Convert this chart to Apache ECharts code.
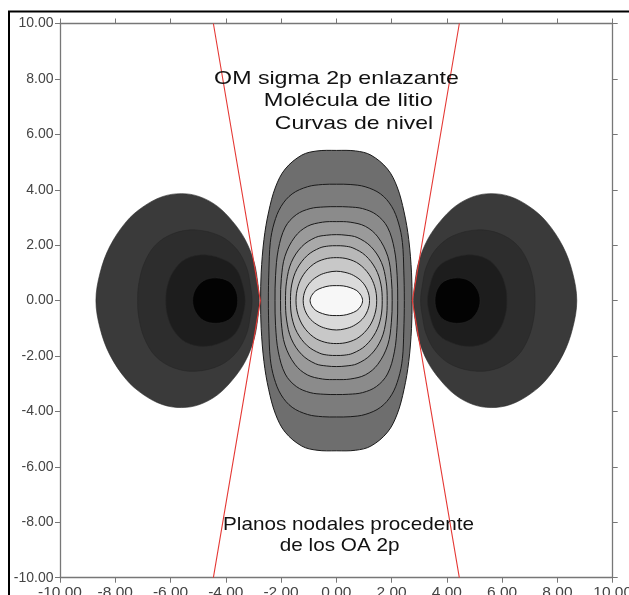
<!DOCTYPE html>
<html><head><meta charset="utf-8">
<script src="https://cdn.jsdelivr.net/npm/echarts@6/dist/echarts.min.js"></script>
<style>html,body{margin:0;padding:0;background:#fff}#c{width:629px;height:595px}</style>
</head><body><div id="c"></div>
<script>
// ---- axis range ----
const axisMin = -10, axisMax = 10, axisStep = 2;

// ---- central (bonding) lobe: contour curves, first-quadrant points (x>=0,y>=0), outer -> inner ----
const mid1 = [[2.74,0],[2.72,1.0],[2.62,2.2],[2.45,3.2],[2.2,4.1],[1.85,4.75],[1.25,5.25],[0.7,5.4],[0,5.42]];
const mid2 = [[2.46,0],[2.44,1.1],[2.39,2.1],[2.25,2.8],[2.0,3.4],[1.6,3.85],[1.04,4.11],[0.5,4.19],[0,4.2]];
const mid3 = [[2.22,0],[2.2,0.9],[2.1,1.85],[1.85,2.65],[1.45,3.1],[0.95,3.32],[0.45,3.38],[0,3.39]];
const mid4 = [[2.02,0],[1.99,0.8],[1.86,1.6],[1.5,2.3],[1.05,2.68],[0.5,2.83],[0,2.85]];
const mid5 = [[1.84,0],[1.8,0.7],[1.63,1.38],[1.25,1.95],[0.75,2.28],[0.35,2.36],[0,2.38]];
const mid6 = [[1.66,0],[1.61,0.6],[1.42,1.15],[1.05,1.63],[0.6,1.9],[0.28,1.97],[0,1.98]];
const mid7 = [[1.46,0],[1.39,0.5],[1.18,0.95],[0.82,1.32],[0.42,1.5],[0,1.55]];
const mid8 = [[1.2,0],[1.13,0.36],[0.93,0.68],[0.62,0.91],[0.31,1.02],[0,1.06]];
const mid9 = [[0.95,0],[0.89,0.19],[0.74,0.36],[0.5,0.47],[0.25,0.53],[0,0.54]];
const midShades = ['#6e6e6e','#7c7c7c','#8b8b8b','#9a9a9a','#a9a9a9','#b8b8b8','#c8c8c8','#dadada','#f7f7f7'];

// ---- outer lobes (right lobe given, upper half from inner y=0 point over the top to outer y=0 point) ----
const side1 = [[2.79,0],[2.85,0.7],[2.98,1.4],[3.3,2.2],[3.75,2.85],[4.3,3.4],[4.95,3.75],[5.6,3.86],[6.3,3.75],[7.0,3.38],[7.6,2.85],[8.2,1.95],[8.55,1.0],[8.7,0]];
const side2 = [[3.05,0],[3.12,0.6],[3.25,1.2],[3.6,1.85],[4.2,2.33],[5.1,2.55],[5.9,2.42],[6.55,2.0],[6.95,1.35],[7.15,0.6],[7.19,0]];
const side3 = [[3.3,0],[3.4,0.6],[3.6,1.1],[3.95,1.42],[4.72,1.65],[5.45,1.5],[5.9,1.05],[6.12,0.5],[6.17,0]];
const side4 = [[3.57,0],[3.65,0.4],[3.9,0.7],[4.35,0.82],[4.8,0.72],[5.1,0.4],[5.2,0]];
const sideShades = ['#3a3a3a','#2d2d2d','#1d1d1d','#030303'];

// ---- nodal planes ----
const nodalLeft  = [[-4.45,10],[-2.75,0],[-4.45,-10]];
const nodalRight = [[4.45,10],[2.75,0],[4.45,-10]];

// ---- texts ----
const titleLines = ['OM sigma 2p enlazante','Molécula de litio','Curvas de nivel'];
const noteLines  = ['Planos nodales procedente','de los OA 2p'];

// build closed rings by mirroring
function quadRing(Q){
  return [
    ...Q,
    ...Q.slice(0,-1).reverse().map(([x,y])=>[-x,y]),
    ...Q.slice(1).map(([x,y])=>[-x,-y]),
    ...Q.slice(1,-1).reverse().map(([x,y])=>[x,-y])
  ];
}
function halfRing(U, sx){
  const r = [...U, ...U.slice(1,-1).reverse().map(([x,y])=>[x,-y])];
  return r.map(([x,y])=>[sx*x,y]);
}
const midRings = [mid1,mid2,mid3,mid4,mid5,mid6,mid7,mid8,mid9].map(quadRing);
const sides = [side1,side2,side3,side4];
const rightRings = sides.map(u=>halfRing(u,1));
const leftRings = sides.map(u=>halfRing(u,-1));

function polySeries(name, rings, shades, stroke, lw){
  return {
    type:'custom', name, coordinateSystem:'cartesian2d', silent:true, z:2,
    data: rings.map((r,i)=>[r[0][0], r[0][1], i]),
    encode:{x:0,y:1},
    renderItem:(params, api)=>{
      const i = api.value(2);
      const pts = rings[i].map(p=>api.coord(p));
      return {type:'polygon', shape:{points:pts, smooth:0.35},
              style:{fill:shades[i], stroke:stroke, lineWidth:lw}};
    }
  };
}

const axisCommon = {
  type:'value', min:axisMin, max:axisMax, interval:axisStep,
  axisLine:{show:true, onZero:false, lineStyle:{color:'#777', width:1.3}},
  axisTick:{show:true, inside:false, length:5, lineStyle:{color:'#777', width:1}},
  splitLine:{show:false}
};
const fontFam = '"Liberation Sans", Arial, sans-serif';
const labelCommon = {show:true, formatter:v=>v.toFixed(2), color:'#444',
  fontFamily:fontFam, showMinLabel:true, showMaxLabel:true, hideOverlap:false};

const chart = echarts.init(document.getElementById('c'), null, {renderer:'canvas'});
function txt(s, x, y, sx){
  return {type:'text', x, y, scaleX:sx, z:100,
    style:{text:s, fontSize:19, fontFamily:fontFam, fill:'#111', align:'center', verticalAlign:'middle'}};
}
chart.setOption({
  animation:false,
  backgroundColor:'#fff',
  grid:{left:60, right:16.3, top:23.5, bottom:17.3, containLabel:false, outerBoundsMode:'none'},
  xAxis:[
    Object.assign({}, axisCommon, {position:'bottom', axisLabel:Object.assign({}, labelCommon, {margin:7, fontSize:15.5})}),
    Object.assign({}, axisCommon, {position:'top', axisLabel:{show:false}})
  ],
  yAxis:[
    Object.assign({}, axisCommon, {position:'left', axisLabel:Object.assign({}, labelCommon, {margin:6.5, fontSize:14})}),
    Object.assign({}, axisCommon, {position:'right', axisLabel:{show:false}})
  ],
  series:[
    polySeries('central', midRings, midShades, '#1a1a1a', 1),
    polySeries('right', rightRings, sideShades, '#262626', 0.6),
    polySeries('left', leftRings, sideShades, '#262626', 0.6),
    {type:'line', data:nodalLeft, symbol:'none', silent:true, z:5,
      lineStyle:{color:'#e53935', width:1.1}},
    {type:'line', data:nodalRight, symbol:'none', silent:true, z:5,
      lineStyle:{color:'#e53935', width:1.1}}
  ],
  graphic:[
    {type:'rect', shape:{x:9, y:11.5, width:700, height:700}, silent:true, z:100,
      style:{fill:'transparent', stroke:'#000', lineWidth:2}},
    txt(titleLines[0], 336.5, 79, 1.22),
    txt(titleLines[1], 348.3, 101, 1.24),
    txt(titleLines[2], 354, 123.4, 1.21),
    txt(noteLines[0], 348.5, 525, 1.09),
    txt(noteLines[1], 339.7, 546, 1.09)
  ]
});
</script></body></html>
